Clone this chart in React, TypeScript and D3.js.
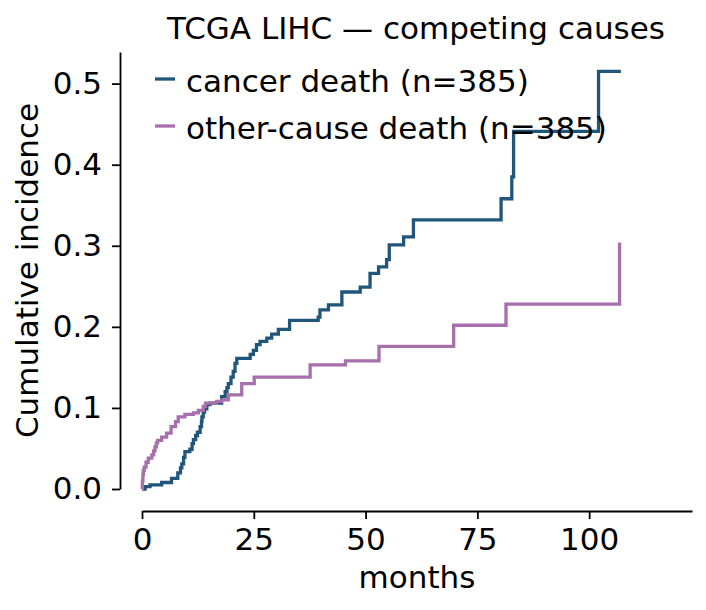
import { useEffect, useRef } from "react";
import * as d3 from "d3";

// cumulative incidence steps (months, value)
const cancerMonths = [
  0, 0.7, 1.8, 4.4, 6.6, 8.0, 8.6, 8.9, 9.3, 9.6, 10.7, 11.2, 11.5, 12.0, 12.4,
  13.0, 13.3, 13.4, 13.7, 14.0, 14.5, 15.2, 17.8, 18.6, 19.0, 19.3, 19.9, 20.4,
  20.8, 21.2, 24.2, 24.9, 25.6, 26.4, 27.9, 29.0, 30.5, 33.0, 39.4, 39.8, 41.7,
  44.7, 48.8, 51.0, 52.9, 54.7, 55.3, 58.5, 60.7, 80.3, 82.7, 83.1, 102.1, 107.1,
];
const cancerIncidence = [
  0, 0.003, 0.005, 0.008, 0.013, 0.02, 0.026, 0.031, 0.039, 0.046, 0.049, 0.056,
  0.061, 0.066, 0.07, 0.077, 0.083, 0.089, 0.095, 0.099, 0.104, 0.106, 0.114,
  0.12, 0.125, 0.13, 0.138, 0.145, 0.155, 0.161, 0.166, 0.171, 0.178, 0.182,
  0.186, 0.191, 0.197, 0.208, 0.212, 0.221, 0.227, 0.243, 0.249, 0.266, 0.274,
  0.283, 0.301, 0.311, 0.332, 0.358, 0.385, 0.441, 0.515, 0.515,
];

const otherMonths = [
  0, 0.05, 0.1, 0.2, 0.3, 0.5, 0.9, 1.4, 2.2, 2.6, 2.9, 3.2, 3.5, 4.4, 5.5, 6.5,
  7.5, 8.1, 9.6, 11.5, 12.6, 13.7, 14.2, 16.7, 17.8, 19.3, 22.3, 25.1, 37.6,
  45.5, 53.0, 69.7, 81.4, 106.8,
];
const otherIncidence = [
  0, 0.003, 0.01, 0.018, 0.023, 0.027, 0.033, 0.038, 0.042, 0.047, 0.052, 0.057,
  0.06, 0.064, 0.069, 0.077, 0.083, 0.089, 0.092, 0.094, 0.097, 0.102, 0.106,
  0.108, 0.11, 0.116, 0.13, 0.138, 0.153, 0.158, 0.176, 0.202, 0.228, 0.304,
];

const seriesNames = ["cancer death (n=385)", "other-cause death (n=385)"];
const seriesColors = ["#215579", "#a86fad"];
const xTicks = [0, 25, 50, 75, 100];
const yTicks = [0, 0.1, 0.2, 0.3, 0.4, 0.5];

const W = 706;
const H = 610;
const FONT = "DejaVu Sans, sans-serif";
const FS = 31;

export default function App() {
  const svgRef = useRef<SVGSVGElement>(null);

  useEffect(() => {
    const margin = { top: 52, right: 14, bottom: 121, left: 142 };
    const offset = 22; // spines pushed away from the data area
    const w = W - margin.left - margin.right;
    const h = H - margin.top - margin.bottom;

    const svg = d3.select(svgRef.current);
    svg.selectAll("*").remove();

    const g = svg
      .append("g")
      .attr("transform", `translate(${margin.left},${margin.top})`);

    const xScale = d3.scaleLinear().domain([0, 123]).range([0, w]);
    const yScale = d3.scaleLinear().domain([0, 0.539]).range([h, 0]);

    // x axis
    const xAxis = g
      .append("g")
      .attr("transform", `translate(0,${h + offset})`)
      .call(
        d3
          .axisBottom(xScale)
          .tickValues(xTicks)
          .tickSize(8)
          .tickPadding(9)
          .tickSizeOuter(0)
      );
    xAxis.select(".domain").attr("stroke-width", 1.8);
    xAxis.selectAll(".tick line").attr("stroke-width", 1.8);
    xAxis
      .selectAll(".tick text")
      .attr("font-family", FONT)
      .attr("font-size", FS)
      .attr("fill", "#000");

    // y axis
    const yAxis = g
      .append("g")
      .attr("transform", `translate(${-offset},0)`)
      .call(
        d3
          .axisLeft(yScale)
          .tickValues(yTicks)
          .tickFormat(d3.format(".1f"))
          .tickSize(8)
          .tickPadding(10)
          .tickSizeOuter(0)
      );
    yAxis.select(".domain").attr("stroke-width", 1.8);
    yAxis.selectAll(".tick line").attr("stroke-width", 1.8);
    yAxis
      .selectAll(".tick text")
      .attr("font-family", FONT)
      .attr("font-size", FS)
      .attr("fill", "#000");

    // step curves
    const line = d3
      .line<[number, number]>()
      .x((d) => xScale(d[0]))
      .y((d) => yScale(d[1]))
      .curve(d3.curveStepAfter);

    const series: [number, number][][] = [
      cancerMonths.map((t, i) => [t, cancerIncidence[i]]),
      otherMonths.map((t, i) => [t, otherIncidence[i]]),
    ];

    g.selectAll(".ci")
      .data(series)
      .join("path")
      .attr("class", "ci")
      .attr("d", (d) => line(d))
      .attr("fill", "none")
      .attr("stroke", (d, i) => seriesColors[i])
      .attr("stroke-width", 3.3);

    // legend
    const legend = g.append("g").attr("transform", "translate(13,27)");
    const rows = legend
      .selectAll("g")
      .data(seriesNames)
      .join("g")
      .attr("transform", (d, i) => `translate(0,${i * 47})`);
    rows
      .append("line")
      .attr("x1", 0)
      .attr("x2", 20)
      .attr("y1", 0)
      .attr("y2", 0)
      .attr("stroke", (d, i) => seriesColors[i])
      .attr("stroke-width", 3.3);
    rows
      .append("text")
      .attr("x", 31)
      .attr("y", 12.7)
      .attr("font-family", FONT)
      .attr("font-size", FS)
      .attr("fill", "#000")
      .text((d) => d);

    // title and axis labels
    svg
      .append("text")
      .attr("x", margin.left + w / 2 - 1)
      .attr("y", 39)
      .attr("text-anchor", "middle")
      .attr("font-family", FONT)
      .attr("font-size", FS)
      .text("TCGA LIHC — competing causes");

    svg
      .append("text")
      .attr("x", margin.left + w / 2)
      .attr("y", 588)
      .attr("text-anchor", "middle")
      .attr("font-family", FONT)
      .attr("font-size", FS)
      .text("months");

    svg
      .append("text")
      .attr(
        "transform",
        `translate(38,${margin.top + h / 2}) rotate(-90)`
      )
      .attr("text-anchor", "middle")
      .attr("font-family", FONT)
      .attr("font-size", FS)
      .text("Cumulative incidence");
  }, []);

  return (
    <svg
      ref={svgRef}
      width={W}
      height={H}
      style={{ position: "absolute", left: 0, top: 0, background: "#fff" }}
    />
  );
}
